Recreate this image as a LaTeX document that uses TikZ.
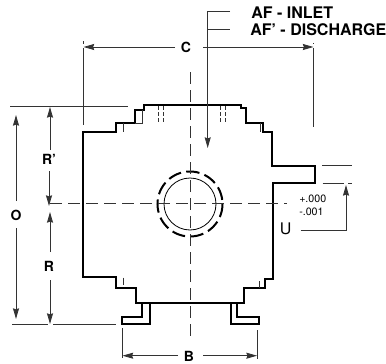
\documentclass[tikz,border=0pt]{standalone}
\usepackage{fontspec}
\setmainfont{TeX Gyre Heros}
\usetikzlibrary{arrows.meta}
\tikzset{
  x=0.75pt,y=-0.75pt,
  body/.style={line width=1.5pt,black,line join=miter},
  thinl/.style={line width=0.6pt,black!80},
  centerl/.style={line width=0.6pt,black!80,dash pattern=on 9pt off 4.5pt},
  dim/.style={line width=0.6pt,black!80,-{Stealth[length=8pt,width=4.5pt,inset=0.8pt]}},
  lab/.style={font=\fontsize{12}{12}\selectfont\bfseries,inner sep=0pt,text=black},
  letter/.style={font=\fontsize{10.5}{11}\selectfont\bfseries,inner sep=0pt,text=black},
  tol/.style={font=\fontsize{8}{8}\selectfont,inner sep=0pt,anchor=west},
}
\begin{document}
\begin{tikzpicture}
\useasboundingbox (0,0) rectangle (386,364);
% labels
\node[lab,anchor=west] (inlet) at (251,13) {AF - INLET};
\node[lab,anchor=west] (disch) at (250,29.5) {AF\symbol{39} - DISCHARGE};
\node[letter] (C) at (186,47.5) {C};
\node[letter] (O) at (16,215) {O};
\node[letter] (Rp) at (49,159) {R\symbol{39}};
\node[letter] (R) at (49,266) {R};
\node[letter] (B) at (189,356.5) {B};
\node[lab,font=\fontsize{12}{13}\selectfont] (U) at (285.7,229) {U};
\node[tol] (tp) at (299,199) {+.000};
\node[tol] (tm) at (299,212) {-.001};
% coordinates
\coordinate (ctr) at (190,204);
\coordinate (cL) at (83.5,47);
\coordinate (cR) at (313.5,47);
\coordinate (cLi) at (175,47);
\coordinate (cRi) at (203,47);
\coordinate (afT) at (207.7,11.7);
\coordinate (afM) at (207.7,29.7);
\coordinate (afE) at (207.7,148);
\coordinate (afT2) at (230,11.7);
\coordinate (afM2) at (230,29.7);
% body
\draw[body] (83.3,132) -- (115.7,132) -- (115.7,123.3) -- (135,123.3) -- (135,110) -- (144,110)
  -- (144,105.3) -- (241.3,105.3) -- (241.3,108.3) -- (246,108.3) -- (246,123.3) -- (263.3,123.3)
  -- (263.3,132.3) -- (272,132.3) -- (272,165.5) -- (315,165.5) -- (315,183.3) -- (272.8,183.3)
  -- (272.8,279.3) -- (265,279.3) -- (265,288.3) -- (244,288.3) -- (244,303.3) -- (136,303.3)
  -- (136,288.3) -- (116.3,288.3) -- (116.3,277.3) -- (83.3,277.3) -- cycle;
\draw[body] (142.3,303.3) -- (142.3,316.7) -- (122.3,316.7) -- (122.3,324) -- (150.3,324) -- (150.3,303.3);
\draw[body] (230.7,303.3) -- (230.7,324) -- (258.7,324) -- (258.7,316.7) -- (237.3,316.7) -- (237.3,303.3);
% thin details
\draw[thinl] (135,123.3) -- (142.7,123.3) -- (142.7,110);
\draw[thinl] (123.7,123.3) -- (123.7,132);
\draw[thinl] (260,123.3) -- (260,132);
\draw[thinl] (123.3,277.5) -- (123.3,284.5);
\draw[thinl] (259,281) -- (259,288.3);
\draw[line width=0.7pt,black!80,dash pattern=on 3pt off 1.5pt] (158.3,106) -- (158.3,123);
\draw[line width=0.7pt,black!80,dash pattern=on 3pt off 1.5pt] (163.7,106) -- (163.7,123);
\draw[line width=0.7pt,black!80,dash pattern=on 3pt off 1.5pt] (220,106) -- (220,123);
\draw[line width=0.7pt,black!80,dash pattern=on 3pt off 1.5pt] (225,106) -- (225,123);
% circles
\draw[line width=0.6pt] (ctr) circle[radius=26];
\draw[line width=1.5pt,dash pattern=on 10pt off 4pt] (ctr) circle[radius=32.5];
% centre lines
\draw[centerl] (190,72) -- (190,338);
\draw[centerl] (50,203.5) -- (287,203.5);
% extension lines
\draw[thinl] (83.3,41) -- (83.3,44);
\draw[thinl] (83.3,48) -- (83.3,125);
\draw[thinl] (313.7,43) -- (313.7,44);
\draw[thinl] (313.7,48) -- (313.7,127);
\draw[thinl] (10,106.7) -- (128,106.7);
\draw[thinl] (12,324.3) -- (48,324.3);
\draw[thinl] (53,324.3) -- (116,324.3);
\draw[thinl] (122,328) -- (122,358);
\draw[thinl] (257.3,330) -- (257.3,359);
\draw[thinl] (322,165.7) -- (352,165.7);
\draw[thinl] (322.7,183.5) -- (344,183.5);
\draw[thinl] (348,183.5) -- (352,183.5);
% C
\draw[dim] (cLi) -- (cL);
\draw[dim] (cRi) -- (cR);
% AF
\draw[thinl] (afT2) -- (afT) -- (afM);
\draw[thinl] (afM) -- (afM2);
\draw[dim] (afM) -- (afE);
% O
\draw[dim] (16,201) -- (16,115);
\draw[dim] (16,228) -- (16,319);
% R'
\draw[dim] (50,150) -- (50,107);
\draw[dim] (49,171) -- (49,206);
% R
\draw[dim] (50,252) -- (50,212);
\draw[dim] (50,280) -- (50,324);
% B
\draw[dim] (178,355.7) -- (122.5,355.7);
\draw[dim] (203,355.7) -- (257,355.7);
% U
\draw[dim] (300.7,230.7) -- (346,230.7) -- (346,185);
\end{tikzpicture}
\end{document}
